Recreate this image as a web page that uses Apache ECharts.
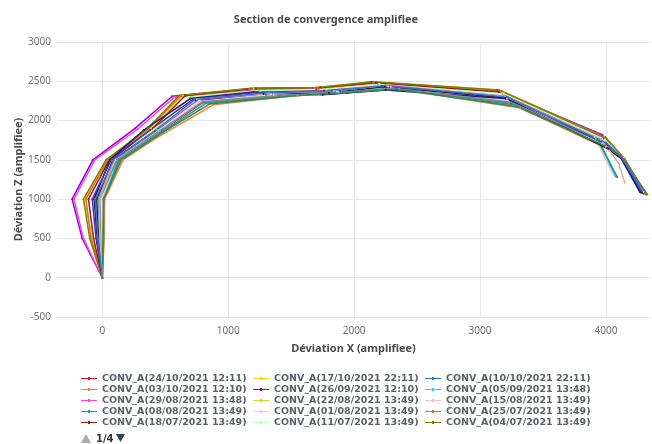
<!DOCTYPE html>
<html>
<head>
<meta charset="utf-8">
<script src="https://cdn.jsdelivr.net/npm/echarts@6/dist/echarts.min.js"></script>
<style>
  html, body { margin: 0; padding: 0; background: #fff; }
  #chart { width: 652px; height: 444px; }
</style>
</head>
<body>
<div id="chart"></div>
<script>
// noms des mesures (page 1 de la légende)
const names = [
  'CONV_A(24/10/2021 12:11)', 'CONV_A(17/10/2021 22:11)', 'CONV_A(10/10/2021 22:11)',
  'CONV_A(03/10/2021 12:10)', 'CONV_A(26/09/2021 12:10)', 'CONV_A(05/09/2021 13:48)',
  'CONV_A(29/08/2021 13:48)', 'CONV_A(22/08/2021 13:49)', 'CONV_A(15/08/2021 13:49)',
  'CONV_A(08/08/2021 13:49)', 'CONV_A(01/08/2021 13:49)', 'CONV_A(25/07/2021 13:49)',
  'CONV_A(18/07/2021 13:49)', 'CONV_A(11/07/2021 13:49)', 'CONV_A(04/07/2021 13:49)'
];
// mesures plus anciennes (pages suivantes)
const olderNames = [
  'CONV_A(27/06/2021 13:49)', 'CONV_A(20/06/2021 13:49)', 'CONV_A(13/06/2021 13:49)',
  'CONV_A(06/06/2021 13:49)', 'CONV_A(30/05/2021 13:49)', 'CONV_A(23/05/2021 13:49)',
  'CONV_A(16/05/2021 13:49)'
];
const colors = [
  '#dc143c', '#ffd700', '#1e7bc0', '#ff7f24', '#9400d3', '#00e5ff', '#ff40e0', '#c6e21e',
  '#ffbcc8', '#1a9e9e', '#e8c8ff', '#c8782e', '#9b1b1b', '#b4ffc4', '#808000',
  '#1a1a8c', '#222222', '#888888', '#5b2c8f', '#2e8b57', '#d2b48c', '#4169e1'
];

// points [X, Z] de chaque section
const sections = [
  [[0,0],[5,500],[10,1000],[130,1500],[470,1870],[800,2230],[1400,2320],[1900,2360],[2300,2420],[3250,2220],[3930,1760],[4080,1290]],
  [[0,0],[-80,500],[-140,1000],[50,1500],[390,1900],[640,2320],[1200,2400],[1700,2420],[2150,2490],[3150,2390],[3990,1790],[4140,1520],[4300,1090]],
  [[0,0],[-20,500],[-30,1000],[100,1500],[440,1880],[760,2260],[1300,2330],[1850,2360],[2280,2440],[3220,2300],[4000,1720],[4130,1520],[4310,1070]],
  [[0,0],[15,500],[18,1000],[165,1500],[410,1760],[880,2200],[1550,2320],[2360,2400],[3320,2160],[4000,1650],[4125,1540],[4330,1060]],
  [[0,0],[-160,500],[-240,1000],[-75,1500],[260,1900],[555,2310],[1150,2400],[1700,2400],[2140,2490],[3140,2380],[3970,1820],[4120,1540],[4290,1080]],
  [[0,0],[0,500],[5,1000],[120,1500],[460,1870],[790,2240],[1380,2320],[1880,2360],[2300,2420],[3230,2240],[3920,1770],[4070,1300]],
  [[0,0],[-150,500],[-225,1000],[-60,1500],[280,1890],[575,2300],[1170,2390],[1720,2395],[2160,2480],[3160,2370],[3980,1800],[4130,1530],[4300,1070]],
  [[0,0],[-30,500],[-50,1000],[80,1500],[420,1880],[700,2300],[1250,2380],[1760,2400],[2200,2470],[3180,2350],[3990,1760],[4140,1520],[4305,1075]],
  [[0,0],[-5,500],[0,1000],[110,1500],[450,1870],[780,2250],[1360,2330],[1870,2370],[2290,2430],[3220,2260],[3910,1790],[4060,1310]],
  [[0,0],[10,500],[8,1000],[140,1500],[480,1860],[820,2220],[1420,2310],[1920,2350],[2320,2410],[3270,2200],[3940,1750],[4090,1280]],
  [[0,0],[-10,500],[-15,1000],[105,1500],[445,1875],[770,2255],[1340,2335],[1860,2370],[2270,2435],[3210,2280],[3995,1740],[4135,1520],[4315,1065]],
  [[0,0],[-90,500],[-130,1000],[40,1500],[370,1900],[620,2310],[1190,2400],[1710,2410],[2150,2480],[3160,2380],[3990,1780],[4150,1500],[4310,1070]],
  [[0,0],[-70,500],[-110,1000],[55,1500],[400,1900],[660,2320],[1220,2410],[1730,2420],[2170,2480],[3150,2360],[3985,1770],[4145,1510],[4320,1060]],
  [[0,0],[-40,500],[-60,1000],[75,1500],[410,1890],[690,2300],[1260,2380],[1780,2400],[2200,2460],[3190,2340],[3990,1760],[4140,1520],[4300,1080]],
  [[0,0],[-100,500],[-150,1000],[30,1500],[360,1900],[610,2320],[1180,2410],[1700,2420],[2150,2495],[3150,2390],[3995,1790],[4150,1510],[4310,1080]],
  [[0,0],[-40,500],[-65,1000],[60,1500],[330,1880],[700,2280],[1200,2365],[1750,2330],[2250,2390],[3200,2280],[4010,1650],[4120,1520],[4270,1090]],
  [[0,0],[-30,500],[-45,1000],[85,1500],[420,1870],[740,2260],[1280,2340],[1800,2350],[2240,2430],[3200,2290],[4020,1640],[4130,1510],[4280,1080]],
  [[0,0],[-15,500],[-20,1000],[115,1500],[455,1870],[800,2240],[1400,2320],[1900,2360],[2320,2410],[3250,2230],[4000,1700],[4135,1515],[4320,1065]],
  [[0,0],[-50,500],[-80,1000],[70,1500],[380,1880],[720,2270],[1240,2360],[1760,2380],[2220,2440],[3200,2310],[4005,1700],[4130,1520],[4290,1075]],
  [[0,0],[5,500],[12,1000],[150,1500],[490,1860],[850,2210],[1480,2310],[2340,2400],[3290,2180],[3990,1680],[4120,1540],[4325,1062]],
  [[0,0],[-20,500],[-25,1000],[95,1500],[430,1880],[750,2270],[1320,2345],[1840,2380],[2260,2450],[3200,2310],[3960,1760],[4100,1460],[4150,1210]],
  [[0,0],[-35,500],[-55,1000],[90,1500],[425,1875],[730,2265],[1290,2350],[1820,2375],[2250,2445],[3210,2300],[4000,1720],[4130,1525],[4300,1070]]
];

const xMin = -360, xMax = 4350;
const yTicks = { min: -500, max: 3000, step: 500 };
const pageLabel = '1/4';

const allNames = names.concat(olderNames);
const chart = echarts.init(document.getElementById('chart'));

const series = sections.map((pts, i) => ({
  name: allNames[i],
  type: 'line',
  data: pts,
  symbol: 'circle',
  symbolSize: 2,
  lineStyle: { width: 1.5, color: colors[i] },
  itemStyle: { color: colors[i] },
  emphasis: { disabled: true },
  animation: false
}));

const plainNum = (v) => String(v);

chart.setOption({
  animation: false,
  title: {
    text: 'Section de convergence amplifiee',
    left: 'center',
    top: 9,
    textStyle: { fontSize: 11, fontWeight: 'bold', color: '#4a4a4a', fontFamily: 'Noto Sans' }
  },
  grid: { left: 57, right: 2, top: 42, bottom: 127, containLabel: false, outerBoundsMode: 'none' },
  legend: {
    data: names,
    left: 81,
    top: 373,
    width: 540,
    padding: 0,
    itemGap: 0,
    itemWidth: 16,
    itemHeight: 3,
    icon: 'path://M0,1L16,1L16,2L0,2Z M7,0L9,0L9,3L7,3Z',
    textStyle: { fontSize: 9.5, fontWeight: 'bold', color: '#5b6068', fontFamily: 'DejaVu Sans', lineHeight: 11, width: 151 }
  },
  xAxis: {
    type: 'value',
    min: xMin,
    max: xMax,
    splitNumber: 5,
    name: 'Déviation X (amplifiee)',
    nameLocation: 'middle',
    nameGap: 26,
    nameTextStyle: { fontSize: 11, fontWeight: 'bold', color: '#4a4a4a', fontFamily: 'Noto Sans' },
    axisLine: { show: false },
    axisTick: { show: false },
    axisLabel: { showMinLabel: false, showMaxLabel: false, fontSize: 10, color: '#6e7079', fontFamily: 'Noto Sans', margin: 9, formatter: plainNum },
    splitLine: { show: true, showMinLine: false, showMaxLine: false, lineStyle: { color: '#e6e6e6' } }
  },
  yAxis: {
    type: 'value',
    min: yTicks.min,
    max: yTicks.max,
    interval: yTicks.step,
    name: 'Déviation Z (amplifiee)',
    nameLocation: 'middle',
    nameGap: 33,
    nameMoveOverlap: false,
    nameTextStyle: { fontSize: 11, fontWeight: 'bold', color: '#4a4a4a', fontFamily: 'Noto Sans' },
    axisLine: { show: false },
    axisTick: { show: false },
    axisLabel: { fontSize: 10, color: '#6e7079', fontFamily: 'Noto Sans', margin: 6, formatter: plainNum },
    splitLine: { lineStyle: { color: '#e0e6f1' } }
  },
  graphic: [
    { type: 'polygon', shape: { points: [[81, 443], [91, 443], [86, 434]] }, style: { fill: '#aaaaaa' } },
    { type: 'text', left: 96, top: 434, style: { text: pageLabel, font: 'bold 10px "DejaVu Sans"', fill: '#333' } },
    { type: 'polygon', shape: { points: [[116, 434], [125, 434], [120.5, 442]] }, style: { fill: '#2f4554' } }
  ],
  series: series
});
</script>
</body>
</html>
